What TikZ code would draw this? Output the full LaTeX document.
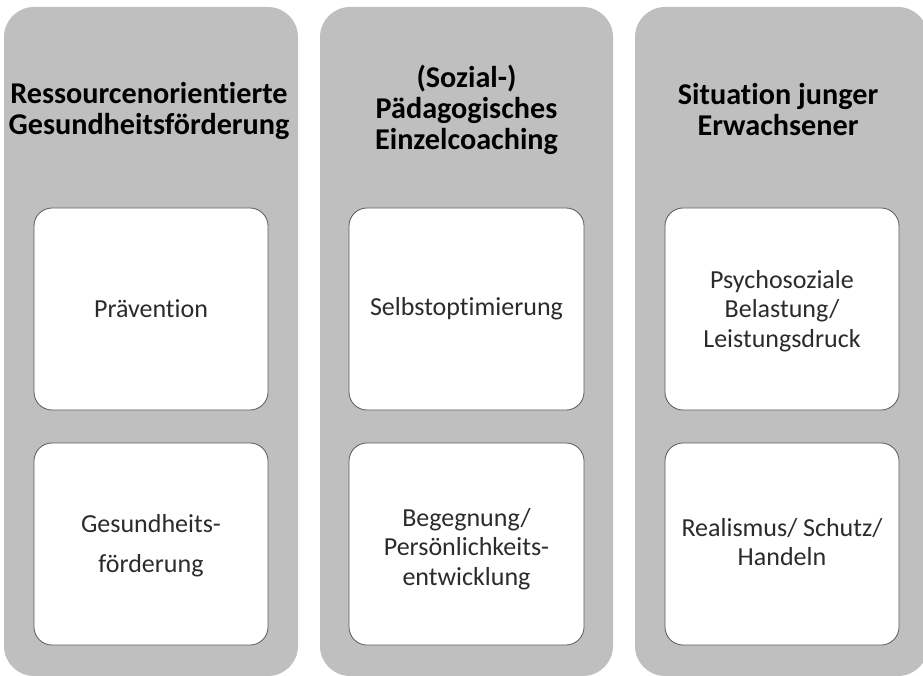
\documentclass[tikz,border=0pt]{standalone}
\usepackage{fontspec}
\setmainfont{Carlito}[Ligatures={NoCommon,NoRare,NoContextual}]
\definecolor{colgray}{HTML}{BFBFBF}
\definecolor{boxline}{HTML}{595959}
\definecolor{txt}{HTML}{2B2B2B}
\tikzset{
  column/.style={fill=colgray, draw=none, rounded corners=30pt},
  innerbox/.style={fill=white, draw=boxline, line width=0.8pt, rounded corners=18pt},
  head/.style={font=\fontsize{30.2}{31}\selectfont\bfseries, text=black, align=center},
  body/.style={font=\fontsize{26}{29.5}\selectfont, text=txt, align=center}
}
\begin{document}
\begin{tikzpicture}[x=1pt,y=-1pt]
\clip (0,0) rectangle (923,676);
\useasboundingbox (0,0) rectangle (923,676);
% columns
\path[column] (4,7) rectangle (298,676);
\path[column] (320,7) rectangle (613,676);
\path[column] (635,7) rectangle (928,676);
% boxes
\path[innerbox] (34,208) rectangle (268,410);
\path[innerbox] (34,443) rectangle (268,645);
\path[innerbox] (349,208) rectangle (584,410);
\path[innerbox] (349,443) rectangle (584,645);
\path[innerbox] (665,208) rectangle (899,410);
\path[innerbox] (665,443) rectangle (899,645);
% headings
\node[head] (h1) at (149,111) {Ressourcenorient\kern0pt ierte\\Gesundheitsförderung};
\node[head] (h2) at (466.5,110) {(Sozial-)\\Pädagogisches\\Einzelcoaching};
\node[head] (h3) at (778,110) {Situation junger\\Erwachsener};
% box texts
\node[body] (b1) at (151,309) {Prävent\kern0pt ion};
\node[body, font=\fontsize{26}{40}\selectfont] (b2) at (151,546) {Gesundheits-\\förderung};
\node[body] (b3) at (466.5,309) {Selbstopt\kern0pt imierung};
\node[body] (b4) at (466.5,549) {Begegnung/\\Persönlichkeits-\\entwicklung};
\node[body] (b5) at (782,311) {Psychosoziale\\Belastung/\\Leistungsdruck};
\node[body] (b6) at (782,542) {Realismus/ Schutz/\\Handeln};
\end{tikzpicture}
\end{document}
